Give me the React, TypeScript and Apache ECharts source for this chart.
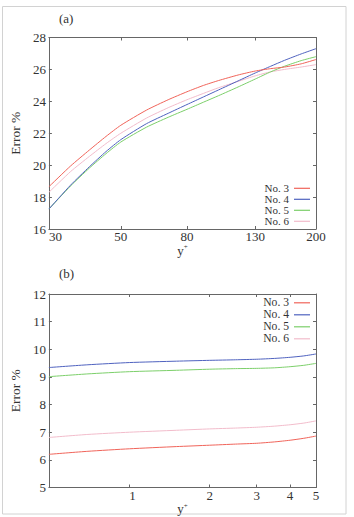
import React, { useEffect, useRef } from "react";
import * as echarts from "echarts";

// Panel (a): error vs y+ in the log layer
const yPlusA = [30, 35, 40, 45, 50, 60, 70, 80, 90, 100, 115, 130, 145, 160, 180, 200];
const a_no3 = [18.65, 19.95, 20.95, 21.8, 22.5, 23.45, 24.1, 24.6, 25.0, 25.3, 25.65, 25.9, 26.05, 26.15, 26.35, 26.62];
const a_no4 = [17.25, 18.75, 19.9, 20.85, 21.6, 22.6, 23.25, 23.8, 24.28, 24.71, 25.28, 25.78, 26.2, 26.57, 26.97, 27.3];
const a_no5 = [17.25, 18.7, 19.82, 20.72, 21.45, 22.38, 23.0, 23.5, 23.95, 24.35, 24.9, 25.4, 25.85, 26.2, 26.55, 26.8];
const a_no6 = [18.3, 19.6, 20.55, 21.35, 22.0, 22.95, 23.6, 24.1, 24.5, 24.85, 25.25, 25.6, 25.85, 26.0, 26.15, 26.3];
const ticksA = [30, 50, 80, 130, 200];

// Panel (b): error vs y+ in the viscous sublayer
const yPlusB = [0.5, 0.7, 1, 1.5, 2, 2.5, 3, 3.5, 4, 4.5, 5];
const b_no3 = [6.2, 6.31, 6.4, 6.48, 6.53, 6.57, 6.6, 6.65, 6.71, 6.78, 6.86];
const b_no4 = [9.34, 9.44, 9.52, 9.57, 9.6, 9.62, 9.64, 9.67, 9.71, 9.76, 9.83];
const b_no5 = [9.01, 9.11, 9.19, 9.24, 9.28, 9.3, 9.31, 9.33, 9.37, 9.42, 9.49];
const b_no6 = [6.81, 6.92, 7.0, 7.07, 7.12, 7.15, 7.18, 7.22, 7.27, 7.33, 7.41];
const ticksB = [1, 2, 3, 4, 5];

const names = ["No. 3", "No. 4", "No. 5", "No. 6"];
const colors = ["#f0645a", "#4f62bf", "#7ccf6a", "#f2bccb"];

const FONT = "Liberation Serif";
const log = (v: number) => Math.log10(v);

function pairs(xs: number[], ys: number[]) {
  return xs.map((x, i) => [log(x), ys[i]]);
}

function xAxes(gridIndex: number, ticks: number[], min: number, max: number, nameGap: number) {
  const tickVals = ticks.map(log);
  const common = {
    type: "value" as const,
    gridIndex,
    min: log(min),
    max: log(max),
    splitLine: { show: false },
    axisLine: { show: true, onZero: false, lineStyle: { color: "#666", width: 1 } },
    axisTick: { show: true, inside: true, length: 3, customValues: tickVals, lineStyle: { color: "#666" } },
  };
  return [
    {
      ...common,
      position: "bottom",
      name: "{y|y}{s|+}",
      nameLocation: "middle",
      nameGap,
      nameTextStyle: {
        fontFamily: FONT,
        rich: {
          y: { fontFamily: FONT, fontSize: 13, color: "#333" },
          s: { fontFamily: FONT, fontSize: 7, color: "#333", verticalAlign: "top", padding: [0, 0, 6, 0] },
        },
      },
      axisLabel: {
        show: true,
        customValues: tickVals,
        margin: 1,
        alignMinLabel: "left",
        fontFamily: FONT,
        fontSize: 13,
        color: "#333",
        formatter: (v: number) => String(Math.round(Math.pow(10, v))),
      },
    },
    { ...common, position: "top", axisLabel: { show: false } },
  ];
}

function yAxes(gridIndex: number, min: number, max: number, interval: number) {
  const common = {
    type: "value" as const,
    gridIndex,
    min,
    max,
    interval,
    splitLine: { show: false },
    axisLine: { show: true, onZero: false, lineStyle: { color: "#666", width: 1 } },
    axisTick: { show: true, inside: true, length: 3, lineStyle: { color: "#666" } },
  };
  return [
    {
      ...common,
      position: "left",
      name: "Error %",
      nameLocation: "middle",
      nameGap: 17,
      nameRotate: 90,
      nameTextStyle: { fontFamily: FONT, fontSize: 13.5, color: "#333" },
      axisLabel: { show: true, margin: 3, fontFamily: FONT, fontSize: 13, color: "#333" },
    },
    { ...common, position: "right", axisLabel: { show: false } },
  ];
}

function seriesFor(xi: number, yi: number, xs: number[], sets: number[][]) {
  return sets.map((ys, i) => ({
    type: "line",
    name: names[i],
    xAxisIndex: xi,
    yAxisIndex: yi,
    data: pairs(xs, ys),
    symbol: "none",
    smooth: 0.2,
    lineStyle: { width: 1, color: colors[i] },
    itemStyle: { color: colors[i] },
    z: 4 - i,
  }));
}

function legend(top: number, size: number) {
  return {
    data: names,
    orient: "vertical",
    align: "right",
    right: 44,
    top,
    icon: "rect",
    itemWidth: 16,
    itemHeight: 1.2,
    itemGap: 0,
    padding: 0,
    selectedMode: false,
    textStyle: { fontFamily: FONT, fontSize: size, color: "#333", lineHeight: size },
  };
}

export default function App() {
  const ref = useRef<HTMLDivElement>(null);

  useEffect(() => {
    if (!ref.current) return;
    const chart = echarts.init(ref.current, undefined, { renderer: "svg" });
    chart.setOption({
      animation: false,
      backgroundColor: "#fff",
      textStyle: { fontFamily: FONT },
      grid: [
        { left: 42, right: 38, top: 37.5, height: 191.5 },
        { left: 43.5, right: 38, top: 294, height: 193.5 },
      ],
      xAxis: [...xAxes(0, ticksA, 30, 200, 9), ...xAxes(1, ticksB, 0.5, 5, 7)],
      yAxis: [...yAxes(0, 16, 28, 2), ...yAxes(1, 5, 12, 1)],
      legend: [legend(182.8, 11), legend(296.8, 11.6)],
      series: [
        ...seriesFor(0, 0, yPlusA, [a_no3, a_no4, a_no5, a_no6]),
        ...seriesFor(2, 2, yPlusB, [b_no3, b_no4, b_no5, b_no6]),
      ],
      graphic: [
        {
          type: "rect",
          shape: { x: 2.5, y: 6.5, width: 343.5, height: 507.5 },
          style: { fill: "none", stroke: "#d2d2d2", lineWidth: 1 },
          silent: true,
        },
        {
          type: "text",
          x: 59,
          y: 18,
          style: { text: "(a)", fontFamily: FONT, fontSize: 13, fill: "#333", verticalAlign: "middle" },
        },
        {
          type: "text",
          x: 59,
          y: 273,
          style: { text: "(b)", fontFamily: FONT, fontSize: 13, fill: "#333", verticalAlign: "middle" },
        },
      ],
    });
    return () => chart.dispose();
  }, []);

  return (
    <div
      ref={ref}
      style={{ position: "fixed", left: 0, top: 0, width: 354, height: 517 }}
    />
  );
}
